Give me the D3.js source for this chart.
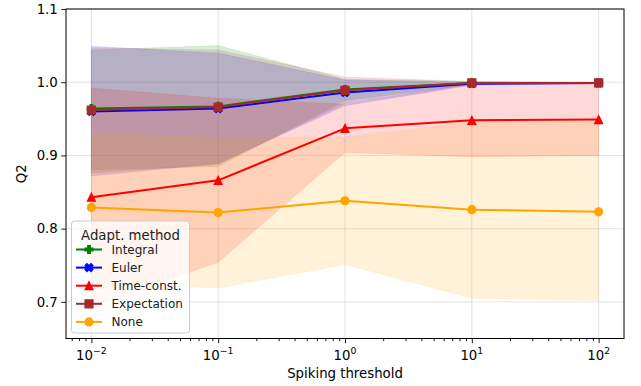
<!DOCTYPE html>
<html>
<head>
<meta charset="utf-8">
<script src="https://cdn.jsdelivr.net/npm/d3@7"></script>
<style>
  body { margin: 0; background: #fff; }
  svg { display: block; font-family: 'DejaVu Sans', sans-serif; }
</style>
</head>
<body>
<div class="svgContainer"></div>
<script>
const WIDTH = 641;
const HEIGHT = 386;
const MARGIN = { left: 66, right: 17, top: 9, bottom: 47.5 };

// values (mean and shaded band per method)
const thresholds = [0.01, 0.1, 1, 10, 100];
const methods = ['Integral', 'Euler', 'Time-const.', 'Expectation', 'None'];
const integralMean = [0.964, 0.967, 0.990, 0.999, 0.999];
const integralLow = [0.880, 0.885, 0.975, 0.997, 0.998];
const integralHigh = [1.044, 1.050, 1.004, 1.001, 1.000];
const eulerMean = [0.960, 0.964, 0.986, 0.998, 0.999];
const eulerLow = [0.872, 0.889, 0.968, 0.996, 0.998];
const eulerHigh = [1.049, 1.040, 1.003, 1.000, 1.000];
const timeConstMean = [0.843, 0.866, 0.937, 0.948, 0.949];
const timeConstLow = [0.694, 0.754, 0.904, 0.898, 0.900];
const timeConstHigh = [0.992, 0.978, 0.970, 0.998, 0.998];
const expectationMean = [0.962, 0.966, 0.989, 0.999, 0.999];
const expectationLow = [0.876, 0.888, 0.971, 0.997, 0.998];
const expectationHigh = [1.047, 1.044, 1.007, 1.001, 1.000];
const noneMean = [0.829, 0.822, 0.838, 0.826, 0.823];
const noneLow = [0.725, 0.719, 0.751, 0.705, 0.702];
const noneHigh = [0.930, 0.925, 0.925, 0.946, 0.946];
const yTicks = [0.7, 0.8, 0.9, 1.0, 1.1];
const xTicks = [0.01, 0.1, 1, 10, 100];
const xTickExponents = ['−2', '−1', '0', '1', '2'];

const COLORS = ['#008000', '#0000ff', '#ff0000', '#a52a2a', '#ffa500'];
const MS = 8; // marker size in px

// custom marker shapes close to matplotlib's
const triangleUp = { draw(ctx, s) { const h = Math.sqrt(s) / 2; ctx.moveTo(0, -h); ctx.lineTo(h, h); ctx.lineTo(-h, h); ctx.closePath(); } };
const markers = [
  { type: d3.symbolCross, size: 5 * (MS / 3) ** 2, rot: 0 },
  { type: d3.symbolCross, size: 40, rot: 45 },
  { type: triangleUp, size: MS * MS, rot: 0 },
  { type: d3.symbolSquare, size: MS * MS, rot: 0 },
  { type: d3.symbolCircle, size: Math.PI * (MS / 2) ** 2, rot: 0 }
];

const series = [
  { mean: integralMean, low: integralLow, high: integralHigh },
  { mean: eulerMean, low: eulerLow, high: eulerHigh },
  { mean: timeConstMean, low: timeConstLow, high: timeConstHigh },
  { mean: expectationMean, low: expectationLow, high: expectationHigh },
  { mean: noneMean, low: noneLow, high: noneHigh }
].map((s, i) => ({ ...s, name: methods[i], color: COLORS[i], marker: markers[i] }));

const svg = d3.select('.svgContainer')
  .append('svg')
  .attr('width', WIDTH)
  .attr('height', HEIGHT);

const xScale = d3.scaleLog()
  .domain([Math.pow(10, -2.2), Math.pow(10, 2.2)])
  .range([MARGIN.left, WIDTH - MARGIN.right]);

const yScale = d3.scaleLinear()
  .domain([0.65, 1.1])
  .range([HEIGHT - MARGIN.bottom, MARGIN.top]);

svg.append('clipPath').attr('id', 'plot-clip')
  .append('rect')
  .attr('x', MARGIN.left).attr('y', MARGIN.top)
  .attr('width', WIDTH - MARGIN.left - MARGIN.right)
  .attr('height', HEIGHT - MARGIN.top - MARGIN.bottom);

// grid
const grid = svg.append('g').attr('stroke', '#b0b0b0').attr('stroke-opacity', 0.35).attr('stroke-width', 1);
grid.selectAll('line.gx').data(xTicks).enter().append('line')
  .attr('x1', d => xScale(d)).attr('x2', d => xScale(d))
  .attr('y1', MARGIN.top).attr('y2', HEIGHT - MARGIN.bottom);
grid.selectAll('line.gy').data(yTicks).enter().append('line')
  .attr('y1', d => yScale(d)).attr('y2', d => yScale(d))
  .attr('x1', MARGIN.left).attr('x2', WIDTH - MARGIN.right);

const plot = svg.append('g').attr('clip-path', 'url(#plot-clip)');

// shaded bands
const area = d3.area()
  .x(d => xScale(d.x))
  .y0(d => yScale(d.lo))
  .y1(d => yScale(d.hi));

series.forEach(s => {
  plot.append('path')
    .datum(thresholds.map((x, i) => ({ x, lo: s.low[i], hi: s.high[i] })))
    .attr('d', area)
    .attr('fill', s.color)
    .attr('fill-opacity', 0.15)
    .attr('stroke', s.color)
    .attr('stroke-opacity', 0.08)
    .attr('stroke-width', 1);
});

// mean lines with markers
const line = d3.line().x(d => xScale(d.x)).y(d => yScale(d.y));

series.forEach(s => {
  const pts = thresholds.map((x, i) => ({ x, y: s.mean[i] }));
  plot.append('path')
    .datum(pts)
    .attr('d', line)
    .attr('fill', 'none')
    .attr('stroke', s.color)
    .attr('stroke-width', 2)
    .attr('stroke-linejoin', 'round');
  plot.selectAll(null)
    .data(pts)
    .enter()
    .append('path')
    .attr('d', d3.symbol().type(s.marker.type).size(s.marker.size))
    .attr('transform', d => `translate(${xScale(d.x)},${yScale(d.y)}) rotate(${s.marker.rot})`)
    .attr('fill', s.color)
    .attr('stroke', s.color)
    .attr('stroke-width', 1.2);
});

// axes
const xAxis = d3.axisBottom(xScale).tickValues(xTicks).tickSize(4.7).tickPadding(3.5).tickFormat('');
const xMinor = d3.axisBottom(xScale)
  .tickValues(xScale.ticks().filter(t => !xTicks.includes(t)))
  .tickSize(2.7).tickFormat('');
const yAxis = d3.axisLeft(yScale).tickValues(yTicks).tickSize(4.7).tickPadding(3.5).tickFormat(d3.format('.1f'));

svg.append('g')
  .attr('transform', `translate(0, ${HEIGHT - MARGIN.bottom})`)
  .call(xAxis)
  .call(g => g.select('.domain').remove());
svg.append('g')
  .attr('transform', `translate(0, ${HEIGHT - MARGIN.bottom})`)
  .call(xMinor)
  .call(g => g.select('.domain').remove());
svg.append('g')
  .attr('transform', `translate(${MARGIN.left}, 0)`)
  .call(yAxis)
  .call(g => g.select('.domain').remove())
  .selectAll('text')
  .attr('font-size', 13.3)
  .attr('fill', '#000')
  .attr('font-family', 'DejaVu Sans');

svg.selectAll('.tick line').attr('stroke', '#000').attr('stroke-width', 0.9);

// x tick labels as 10^n
const xLabels = svg.append('g').attr('font-size', 13.3).attr('fill', '#000');
xTicks.forEach((t, i) => {
  const txt = xLabels.append('text')
    .attr('x', xScale(t))
    .attr('y', HEIGHT - MARGIN.bottom + 21.5)
    .attr('text-anchor', 'middle');
  txt.append('tspan').text('10');
  txt.append('tspan').attr('font-size', 9.3).attr('dy', -6).text(xTickExponents[i]);
});

// frame
svg.append('rect')
  .attr('x', MARGIN.left).attr('y', MARGIN.top)
  .attr('width', WIDTH - MARGIN.left - MARGIN.right)
  .attr('height', HEIGHT - MARGIN.top - MARGIN.bottom)
  .attr('fill', 'none')
  .attr('stroke', '#000')
  .attr('stroke-width', 1);

// axis labels
svg.append('text')
  .attr('x', (MARGIN.left + WIDTH - MARGIN.right) / 2)
  .attr('y', 378)
  .attr('text-anchor', 'middle')
  .attr('font-size', 13.3)
  .text('Spiking threshold');
svg.append('text')
  .attr('transform', `translate(26, ${(MARGIN.top + HEIGHT - MARGIN.bottom) / 2}) rotate(-90)`)
  .attr('text-anchor', 'middle')
  .attr('font-size', 13.3)
  .text('Q2');

// legend
const legend = svg.append('g').attr('id', 'legend');
legend.append('rect')
  .attr('x', 71.5).attr('y', 221)
  .attr('width', 118).attr('height', 112)
  .attr('rx', 3)
  .attr('fill', '#fff').attr('fill-opacity', 0.8)
  .attr('stroke', '#cccccc').attr('stroke-width', 1);
legend.append('text')
  .attr('x', 130.5).attr('y', 239.5)
  .attr('text-anchor', 'middle')
  .attr('font-size', 13.3)
  .attr('fill', '#222')
  .text('Adapt. method');

const rows = legend.selectAll('g.row')
  .data(series)
  .enter()
  .append('g')
  .attr('class', 'row')
  .attr('transform', (d, i) => `translate(0, ${249.5 + i * 18.1})`);
rows.append('line')
  .attr('x1', 76).attr('x2', 102)
  .attr('stroke', d => d.color).attr('stroke-width', 2);
rows.append('path')
  .attr('d', d => d3.symbol().type(d.marker.type).size(d.marker.size)())
  .attr('transform', d => `translate(89,0) rotate(${d.marker.rot})`)
  .attr('fill', d => d.color)
  .attr('stroke', d => d.color)
  .attr('stroke-width', 1.2);
rows.append('text')
  .attr('x', 111.5).attr('y', 4.4)
  .attr('font-size', 12)
  .attr('fill', '#222')
  .text(d => d.name);
</script>
</body>
</html>
